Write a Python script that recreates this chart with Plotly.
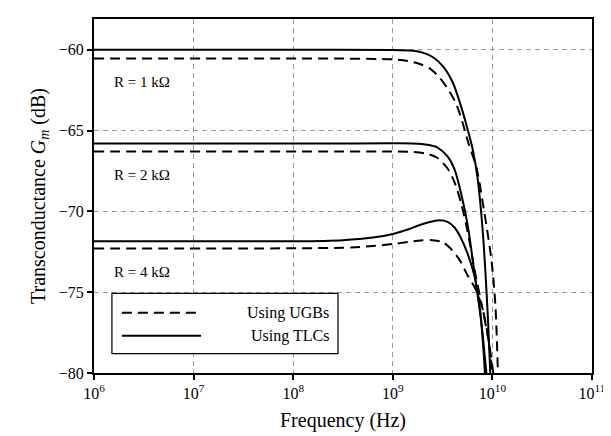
import plotly.graph_objects as go

# log10(frequency) sample points and Gm (dB)
r1_tlc_logf = [6.0, 8.0, 9.0, 9.2, 9.3, 9.4, 9.5, 9.6, 9.68, 9.75, 9.8, 9.85, 9.9, 9.95, 9.985]
r1_tlc_db = [-60.0, -60.0, -60.02, -60.07, -60.18, -60.45, -61.0, -62.0, -63.4, -64.9, -66.1, -67.9, -71.0, -76.0, -81.0]
r1_ugb_logf = [6.0, 8.5, 9.0, 9.15, 9.28, 9.38, 9.48, 9.57, 9.64, 9.7, 9.76, 9.84, 9.92, 9.99, 10.03, 10.06]
r1_ugb_db = [-60.55, -60.55, -60.6, -60.7, -60.9, -61.2, -61.8, -62.6, -63.4, -64.5, -65.8, -67.3, -70.1, -73.0, -75.8, -81.0]

r2_tlc_logf = [6.0, 8.5, 9.0, 9.2, 9.35, 9.45, 9.55, 9.62, 9.686, 9.753, 9.82, 9.887, 9.955]
r2_tlc_db = [-65.8, -65.8, -65.79, -65.8, -65.88, -66.05, -66.6, -67.4, -68.9, -70.9, -73.8, -76.8, -81.0]
r2_ugb_logf = [6.0, 8.5, 9.0, 9.2, 9.35, 9.45, 9.55, 9.62, 9.686, 9.753, 9.82, 9.9, 9.97, 10.03]
r2_ugb_db = [-66.3, -66.3, -66.3, -66.33, -66.45, -66.7, -67.35, -68.2, -69.5, -71.3, -73.6, -76.0, -78.3, -81.0]

r4_tlc_logf = [6.0, 8.0, 8.5, 8.8, 9.0, 9.15, 9.3, 9.45, 9.55, 9.62, 9.68, 9.75, 9.82, 9.88, 9.935]
r4_tlc_db = [-71.85, -71.85, -71.78, -71.62, -71.4, -71.12, -70.78, -70.56, -70.65, -71.0, -71.6, -72.6, -74.0, -76.3, -81.0]
r4_ugb_logf = [6.0, 8.5, 8.8, 9.0, 9.15, 9.28, 9.4, 9.5, 9.58, 9.67, 9.75, 9.83, 9.9, 9.96, 10.01]
r4_ugb_db = [-72.3, -72.25, -72.15, -72.02, -71.9, -71.8, -71.78, -71.9, -72.3, -73.0, -73.95, -74.8, -76.0, -77.9, -81.0]

x_tick_vals = [1e6, 1e7, 1e8, 1e9, 1e10, 1e11]
x_tick_text = ["10<sup>6</sup>", "10<sup>7</sup>", "10<sup>8</sup>", "10<sup>9</sup>", "10<sup>10</sup>", "10<sup>11</sup>"]
y_tick_vals = [-60, -65, -70, -75, -80]

labels = ["R = 1 kΩ", "R = 2 kΩ", "R = 4 kΩ"]
label_logf = [6.18, 6.18, 6.18]
label_db = [-62.0, -67.75, -73.75]

legend_names = ["Using UGBs", "Using TLCs"]

FONT = "Liberation Serif"

fig = go.Figure()

def add(logf, db, dash):
    fig.add_trace(go.Scatter(
        x=[10 ** v for v in logf], y=db, mode="lines",
        line=dict(color="black", width=2, dash=dash, shape="spline", smoothing=0.8),
        showlegend=False, hoverinfo="skip"))

add(r1_ugb_logf, r1_ugb_db, "10px,6px")
add(r1_tlc_logf, r1_tlc_db, "solid")
add(r2_ugb_logf, r2_ugb_db, "10px,6px")
add(r2_tlc_logf, r2_tlc_db, "solid")
add(r4_ugb_logf, r4_ugb_db, "10px,6px")
add(r4_tlc_logf, r4_tlc_db, "solid")

for t, lx, ly in zip(labels, label_logf, label_db):
    fig.add_annotation(x=lx, y=ly, text=t, showarrow=False, xanchor="left",
                       yanchor="middle", font=dict(family=FONT, size=15, color="black"))

# custom legend (paper coordinates)
lx0, lx1, ly0, ly1 = 0.036, 0.49, 0.055, 0.225
fig.add_shape(type="rect", xref="paper", yref="paper", x0=lx0, x1=lx1, y0=ly0, y1=ly1,
              line=dict(color="black", width=1.2), fillcolor="white", layer="above")
rows = [0.17, 0.105]
dashes = ["10px,6px", "solid"]
for name, ry, d in zip(legend_names, rows, dashes):
    fig.add_shape(type="line", xref="paper", yref="paper", x0=0.056, x1=0.215, y0=ry, y1=ry,
                  line=dict(color="black", width=2, dash=d), layer="above")
    fig.add_annotation(xref="paper", yref="paper", x=0.475, y=ry, text=name, showarrow=False,
                       xanchor="right", yanchor="middle",
                       font=dict(family=FONT, size=16, color="black"))

grid = dict(showgrid=True, gridcolor="#9a9a9a", gridwidth=0.8, griddash="5px,4px")

fig.update_xaxes(type="log", range=[6, 11], tickvals=x_tick_vals, ticktext=x_tick_text,
                 ticks="outside", ticklen=5, tickcolor="black", tickwidth=1.5,
                 showline=True, linecolor="black", linewidth=2, mirror=True,
                 tickfont=dict(family=FONT, size=16, color="black"),
                 title=dict(text="Frequency (Hz)", font=dict(family=FONT, size=20, color="black"), standoff=12),
                 zeroline=False, **grid)
fig.update_yaxes(range=[-80, -58.1], tickvals=y_tick_vals,
                 ticks="outside", ticklen=5, tickcolor="black", tickwidth=1.5,
                 showline=True, linecolor="black", linewidth=2, mirror=True,
                 tickfont=dict(family=FONT, size=16, color="black"),
                 title=dict(text="Transconductance <i>G<sub>m</sub></i> (dB)",
                            font=dict(family=FONT, size=20, color="black"), standoff=8),
                 zeroline=False, **grid)

fig.update_layout(width=611, height=436, margin=dict(l=86, r=27, t=9, b=71),
                  plot_bgcolor="white", paper_bgcolor="white", showlegend=False)

fig.write_html("out.html")
